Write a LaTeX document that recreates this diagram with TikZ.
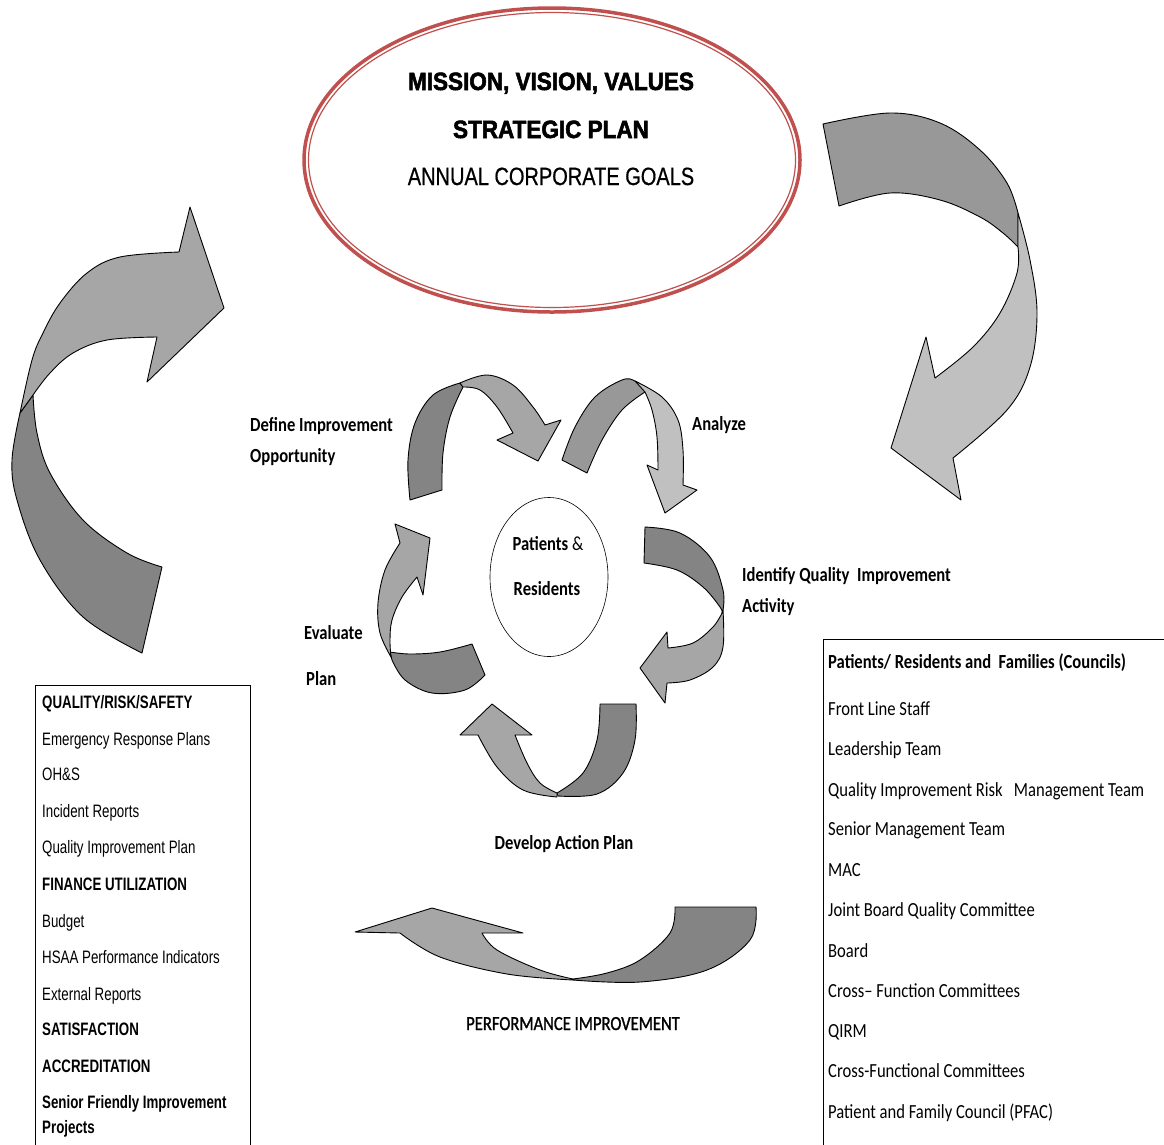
\documentclass[tikz,border=0pt]{standalone}
\usepackage{fontspec}
\usetikzlibrary{shapes.geometric}
\setmainfont{Carlito}[FakeStretch=0.83]
\newfontfamily\calS{Carlito}[FakeStretch=0.83,FakeBold=1.2]
\newfontfamily\arialR{Liberation Sans}[FakeStretch=0.80,FakeBold=0.6]
\newfontfamily\arialB{Liberation Sans Bold}[FakeStretch=0.90,FakeBold=2.2]
\newfontfamily\arialN{Liberation Sans}[FakeStretch=0.74]
\definecolor{gLight}{RGB}{166,166,166}
\definecolor{gDark}{RGB}{132,132,132}
\definecolor{gPale}{RGB}{192,192,192}
\definecolor{gMid}{RGB}{152,152,152}
\definecolor{ovalRed}{RGB}{192,80,77}
\tikzset{
  rib/.style={draw=black, line width=0.9pt, line join=round},
  ribL/.style={rib, fill=gLight},
  ribD/.style={rib, fill=gDark},
  ribP/.style={rib, fill=gPale},
  ribM/.style={rib, fill=gMid},
  sm/.style={smooth, tension=0.6},
  ovtxtB/.style={anchor=base, inner sep=0pt, font=\fontsize{25}{25}\arialB},
  ovtxtR/.style={anchor=base, inner sep=0pt, font=\fontsize{25}{25}\arialR},
  lboxR/.style={anchor=base west, inner sep=0pt, font=\fontsize{18}{18}\arialN},
  lboxB/.style={anchor=base west, inner sep=0pt, font=\fontsize{18}{18}\arialN\bfseries},
  rbox/.style={anchor=base west, inner sep=0pt, font=\fontsize{20}{20}\selectfont},
  lab/.style={anchor=base west, inner sep=0pt, font=\fontsize{20}{20}\selectfont\bfseries},
}
\begin{document}
\begin{tikzpicture}[x=1pt,y=-1pt]
\useasboundingbox (0,0) rectangle (1164,1144);

% ---- top oval ----
\node[draw=ovalRed, line width=3.5pt, ellipse, minimum width=496pt, minimum height=304pt, inner sep=0pt] (oval) at (552,160) {};
\draw[ovalRed, line width=1.2pt] (552,160) ellipse [x radius=243.5, y radius=147.5];
\node[ovtxtB] (mission) at (551,90) {MISSION, VISION, VALUES};
\node[ovtxtB] (strat) at (551,138) {STRATEGIC PLAN};
\node[ovtxtR] (annual) at (551,185) {ANNUAL CORPORATE GOALS};

% ---- left big arrow ----
\draw[ribD] plot[sm] coordinates {(20,413) (12,460) (17,500) (40,560) (83,617) (142,653)}
  -- plot[sm] coordinates {(162,567) (127,553) (83,520) (50,473) (37,433) (33,395)} -- cycle;
\draw[ribL] plot[sm] coordinates {(20,413) (32,360) (43,333) (60,303) (87,273) (120,257) (179,252)}
  -- (190,207) -- (224,308) -- (147,382)
  -- plot[sm] coordinates {(157,337) (107,340) (73,353) (50,373) (33,395)} -- cycle;

% ---- right big arrow ----
\draw[ribM] plot[sm] coordinates {(823,124) (890,113) (940,123) (980,150) (1007,183) (1018,213)}
  -- plot[sm] coordinates {(1018,247) (1003,233) (980,217) (940,200) (890,193) (839,206)} -- cycle;
\draw[ribP] plot[sm] coordinates {(1018,213) (1030,260) (1037,313) (1030,367) (1007,410) (953,458)}
  -- (961,500) -- (891,448) -- (926,337)
  -- plot[sm] coordinates {(935,378) (973,347) (1000,313) (1017,273) (1018,247)} -- cycle;

% ---- centre ----
\node[draw, line width=0.6pt, ellipse, minimum width=118pt, minimum height=159pt, inner sep=0pt] (pr) at (549,577) {};
\node[anchor=base, inner sep=0pt, font=\fontsize{20}{20}\selectfont] (pat) at (548,550) {\textbf{Patients} \&};
\node[anchor=base, inner sep=0pt, font=\fontsize{20}{20}\selectfont\bfseries] (res) at (547,595) {Residents};

% cycle arrow 1 (top-left)
\draw[ribD] plot[sm] coordinates {(410,500) (408,460) (415,423) (433,395) (460,383)}
  -- plot[sm] coordinates {(463,387) (450,417) (443,453) (442,490)} -- cycle;
\draw[ribL] plot[sm] coordinates {(460,383) (487,375) (513,385) (533,407) (545,425)}
  -- (561,420) -- (538,461) -- (497,440)
  -- plot[sm] coordinates {(513,433) (497,407) (480,390) (463,387)} -- cycle;

% cycle arrow 2 (top-right)
\draw[ribM] plot[sm] coordinates {(562,460) (575,427) (595,397) (622,380) (635,381) (645,390)}
  -- plot[sm] coordinates {(645,392) (622,410) (602,440) (587,473)} -- cycle;
\draw[ribP] plot[sm] coordinates {(635,381) (662,397) (678,420) (683,450) (683,485)}
  -- (697,490) -- (665,513) -- (647,465)
  -- plot[sm] coordinates {(658,470) (657,437) (652,410) (645,392)} -- cycle;

% cycle arrow 3 (right)
\draw[ribD] plot[sm] coordinates {(645,527) (680,533) (710,557) (723,590) (723,610)}
  -- plot[sm] coordinates {(722,613) (720,607) (703,587) (677,570) (644,563)} -- cycle;
\draw[ribL] plot[sm] coordinates {(723,610) (723,647) (713,667) (690,680) (667,683)}
  -- (665,703) -- (640,668) -- (667,632)
  -- plot[sm] coordinates {(668,648) (693,643) (713,627) (722,613)} -- cycle;

% cycle arrow 4 (bottom)
\draw[ribD] plot[sm] coordinates {(636,704) (635,740) (623,773) (597,794) (558,796)}
  -- plot[sm] coordinates {(557,793) (583,773) (597,740) (600,704)} -- cycle;
\draw[ribL] plot[sm] coordinates {(557,797) (523,790) (497,767) (478,735)}
  -- (460,735) -- (492,704) -- (532,735)
  -- plot[sm] coordinates {(515,735) (527,763) (540,783) (557,793)} -- cycle;

% cycle arrow 5 (left)
\draw[ribD] plot[sm] coordinates {(390,652) (410,654) (440,652) (472,644)}
  -- plot[sm] coordinates {(485,675) (465,690) (432,693) (405,680) (392,660)} -- cycle;
\draw[ribL] plot[sm] coordinates {(391,657) (380,633) (378,603) (385,570) (400,543)}
  -- (395,524) -- (430,538) -- (423,595)
  -- plot[sm] coordinates {(417,577) (402,597) (392,620) (390,640) (391,657)} -- cycle;

% ---- bottom wide arrow ----
\draw[ribD] plot[sm] coordinates {(756,907) (750,940) (707,970) (640,982) (573,980)}
  -- plot[sm] coordinates {(573,979) (607,973) (640,960) (670,933) (675,907)} -- cycle;
\draw[ribL] plot[sm] coordinates {(573,980) (507,974) (440,957) (400,933)}
  -- (355,932) -- (432,908) -- (523,933)
  -- plot[sm] coordinates {(482,933) (497,950) (540,970) (573,979)} -- cycle;

% ---- cycle labels ----
\node[lab] (def1) at (250,431) {Define Improvement};
\node[lab] (def2) at (250,462) {Opportunity};
\node[lab] (ana) at (692,430) {Analyze};
\node[lab] (idq1) at (742,581) {Identify Quality~ Improvement};
\node[lab] (idq2) at (742,612) {Activity};
\node[lab] (eva1) at (304,639) {Evaluate};
\node[lab] (eva2) at (306,685) {Plan};
\node[anchor=base, inner sep=0pt, font=\fontsize{20}{20}\selectfont\bfseries] (dev) at (564,849) {Develop Action Plan};
\node[anchor=base, inner sep=0pt, font=\fontsize{20}{20}\calS] (perf) at (573,1030) {PERFORMANCE IMPROVEMENT};

% ---- left box ----
\draw[line width=1pt] (35,1150) -- (35,685) -- (250,685) -- (250,1150);
\node[lboxB] (l1) at (42,708) {QUALITY/RISK/SAFETY};
\node[lboxR] (l2) at (42,745) {Emergency Response Plans};
\node[lboxR] (l3) at (42,780) {OH\&S};
\node[lboxR] (l4) at (42,817) {Incident Reports};
\node[lboxR] (l5) at (42,853) {Quality Improvement Plan};
\node[lboxB] (l6) at (42,890) {FINANCE UTILIZATION};
\node[lboxR] (l7) at (42,927) {Budget};
\node[lboxR] (l8) at (42,963) {HSAA Performance Indicators};
\node[lboxR] (l9) at (42,1000) {External Reports};
\node[lboxB] (l10) at (42,1035) {SATISFACTION};
\node[lboxB] (l11) at (42,1072) {ACCREDITATION};
\node[lboxB] (l12) at (42,1108) {Senior Friendly Improvement};
\node[lboxB] (l13) at (42,1133) {Projects};

% ---- right box ----
\draw[line width=1pt] (823,1150) -- (823,639) -- (1170,639);
\node[rbox, font=\fontsize{20}{20}\selectfont\bfseries] (r1) at (828,668) {Patients/ Residents and~ Families (Councils)};
\node[rbox] (r2) at (828,715) {Front Line Staff};
\node[rbox] (r3) at (828,755) {Leadership Team};
\node[rbox] (r4) at (828,796) {Quality Improvement Risk~~ Management Team};
\node[rbox] (r5) at (828,835) {Senior Management Team};
\node[rbox] (r6) at (828,876) {MAC};
\node[rbox] (r7) at (828,916) {Joint Board Quality Committee};
\node[rbox] (r8) at (828,957) {Board};
\node[rbox] (r9) at (828,997) {Cross-- Function Committees};
\node[rbox] (r10) at (828,1037) {QIRM};
\node[rbox] (r11) at (828,1077) {Cross-Functional Committees};
\node[rbox] (r12) at (828,1118) {Patient and Family Council (PFAC)};
\end{tikzpicture}
\end{document}
